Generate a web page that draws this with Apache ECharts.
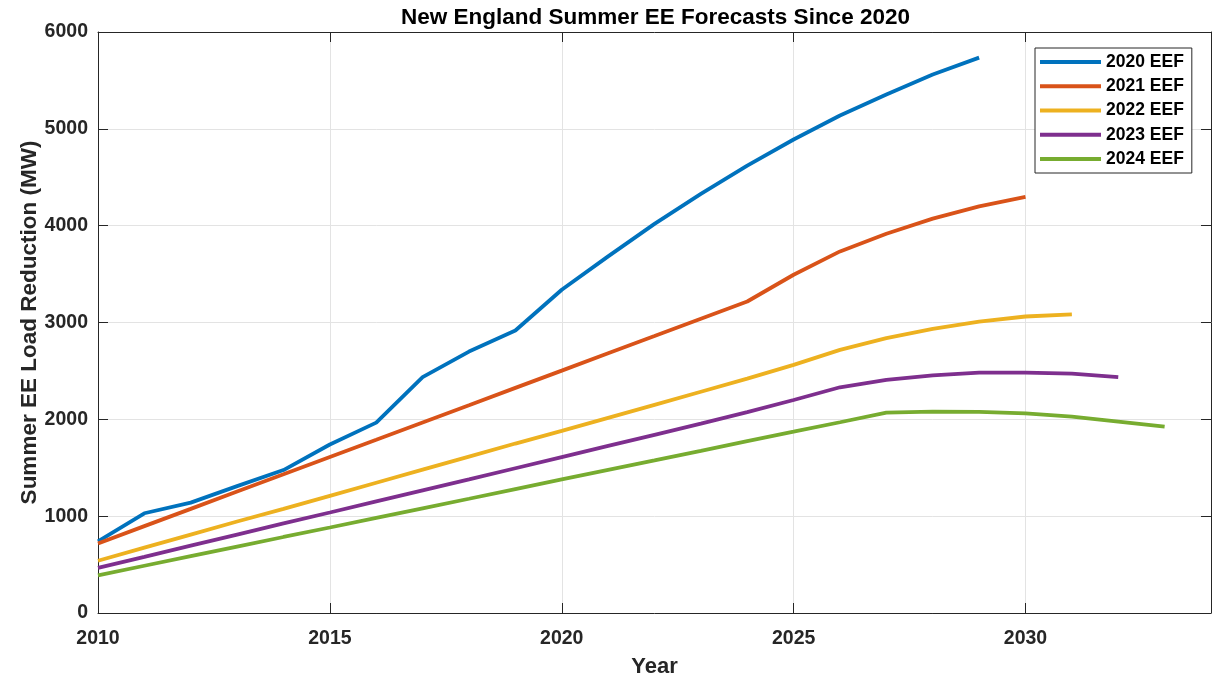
<!DOCTYPE html>
<html lang="en">
<head>
    <meta charset="UTF-8">
    <title>New England Summer EE Forecasts Since 2020</title>
    <script src="https://cdn.jsdelivr.net/npm/echarts@6/dist/echarts.min.js"></script>
    <style>
        html,body{
            margin: 0;
            height: 100%;
            background: #fff;
        }
    </style>
</head>
<body>
<!--图表容器-->
<div id="main" style="width: 1214px;height: 676px"></div>
<script>
    // 年份 (x axis)
    var years = [2010, 2011, 2012, 2013, 2014, 2015, 2016, 2017, 2018, 2019, 2020, 2021,
                 2022, 2023, 2024, 2025, 2026, 2027, 2028, 2029, 2030, 2031, 2032, 2033];

    // 各版预测, 从2010开始
    var eef2020 = [740, 1030, 1140, 1310, 1476, 1740, 1966, 2435, 2700, 2917, 3338, 3683,
                   4018, 4328, 4621, 4890, 5138, 5355, 5562, 5735];
    var eef2021 = [718, 897, 1075, 1254, 1432, 1611, 1789, 1968, 2146, 2325, 2503, 2682,
                   2860, 3039, 3217, 3493, 3734, 3917, 4073, 4200, 4297];
    var eef2022 = [540, 675, 810, 945, 1075, 1210, 1345, 1480, 1615, 1750, 1880, 2015,
                   2150, 2285, 2420, 2562, 2717, 2838, 2935, 3010, 3062, 3083];
    var eef2023 = [466, 580, 695, 810, 925, 1038, 1152, 1266, 1380, 1495, 1610, 1725,
                   1840, 1955, 2075, 2200, 2331, 2407, 2455, 2483, 2483, 2472, 2435];
    var eef2024 = [389, 488, 587, 686, 785, 883, 982, 1081, 1180, 1280, 1380, 1478,
                   1576, 1675, 1775, 1872, 1970, 2069, 2080, 2076, 2062, 2028, 1976, 1924];

    var names = ['2020 EEF', '2021 EEF', '2022 EEF', '2023 EEF', '2024 EEF'];
    var colors = ['#0072BD', '#D95319', '#EDB120', '#7E2F8E', '#77AC30'];

    var font = 'Liberation Sans, Arial, Helvetica, sans-serif';
    var axisColor = '#262626';

    function pairs(vals) {
        return vals.map(function (v, i) { return [years[i], v]; });
    }
    // 不要千位分隔符
    function plain(v) { return String(v); }

    var all = [eef2020, eef2021, eef2022, eef2023, eef2024];
    var series = all.map(function (vals, k) {
        return {
            name: names[k],
            type: 'line',
            symbol: 'none',
            data: pairs(vals),
            lineStyle: { width: 3.8, color: colors[k] },
            itemStyle: { color: colors[k] },
            animation: false
        };
    });

    var myChart = echarts.init(document.getElementById('main'));

    var option = {
        backgroundColor: '#fff',
        animation: false,
        title: {
            text: 'New England Summer EE Forecasts Since 2020',
            left: 401,
            top: 6,
            padding: 0,
            textStyle: { fontFamily: font, fontSize: 22.5, fontWeight: 'bold', color: '#000' }
        },
        legend: {
            orient: 'vertical',
            left: 1035,
            top: 48,
            padding: [3.5, 8, 3.5, 5],
            itemGap: 3.25,
            itemWidth: 61,
            itemHeight: 4,
            itemTextGap: 5,
            icon: 'rect',
            borderColor: axisColor,
            borderWidth: 1,
            backgroundColor: '#fff',
            textStyle: { fontFamily: font, fontSize: 17.5, fontWeight: 'bold', color: '#000', lineHeight: 21 },
            data: names
        },
        grid: { left: 98, right: 3, top: 32, bottom: 63, containLabel: false, outerBoundsMode: 'none' },
        xAxis: [
            {
                type: 'value',
                min: 2010, max: 2034, interval: 5,
                name: 'Year',
                nameLocation: 'middle',
                nameGap: 43,
                nameMoveOverlap: false,
                nameTextStyle: { fontFamily: font, fontSize: 22, fontWeight: 'bold', color: axisColor },
                axisLine: { onZero: false, lineStyle: { color: axisColor, width: 1 } },
                axisTick: { inside: true, length: 10, lineStyle: { color: axisColor } },
                axisLabel: { fontFamily: font, fontSize: 19.5, fontWeight: 'bold', color: axisColor, margin: 16,
                             showMaxLabel: false, formatter: plain },
                splitLine: { show: true, lineStyle: { color: '#e3e3e3', width: 1 } }
            },
            {
                type: 'value', position: 'top',
                min: 2010, max: 2034, interval: 5,
                axisLine: { onZero: false, lineStyle: { color: axisColor, width: 1 } },
                axisTick: { inside: true, length: 10, lineStyle: { color: axisColor } },
                axisLabel: { show: false },
                splitLine: { show: false }
            }
        ],
        yAxis: [
            {
                type: 'value',
                min: 0, max: 6000, interval: 1000,
                name: 'Summer EE Load Reduction (MW)',
                nameLocation: 'middle',
                nameGap: 57,
                nameMoveOverlap: false,
                nameTextStyle: { fontFamily: font, fontSize: 22.5, fontWeight: 'bold', color: axisColor },
                axisLine: { show: true, onZero: false, lineStyle: { color: axisColor, width: 1 } },
                axisTick: { show: true, inside: true, length: 10, lineStyle: { color: axisColor } },
                axisLabel: { fontFamily: font, fontSize: 19.5, fontWeight: 'bold', color: axisColor, margin: 10,
                             formatter: plain },
                splitLine: { show: true, lineStyle: { color: '#e3e3e3', width: 1 } }
            },
            {
                type: 'value', position: 'right',
                min: 0, max: 6000, interval: 1000,
                axisLine: { show: true, onZero: false, lineStyle: { color: axisColor, width: 1 } },
                axisTick: { show: true, inside: true, length: 10, lineStyle: { color: axisColor } },
                axisLabel: { show: false },
                splitLine: { show: false }
            }
        ],
        series: series
    };

    myChart.setOption(option);
</script>
</body>
</html>
